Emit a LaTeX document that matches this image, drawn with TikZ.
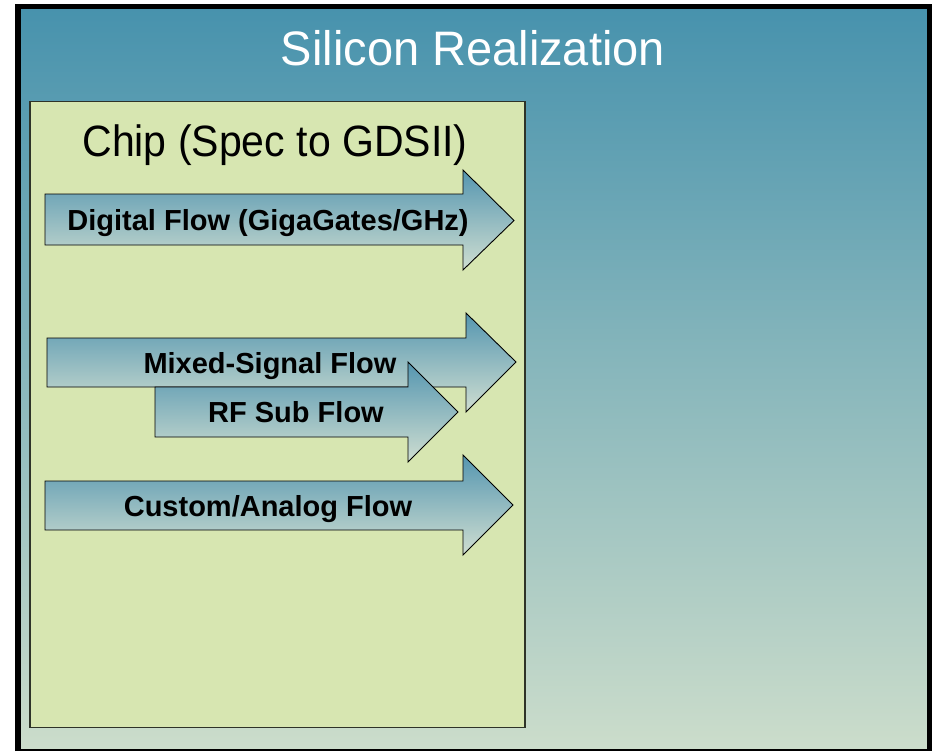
\documentclass[tikz,border=0pt]{standalone}
\usepackage{fontspec}
\setmainfont{Liberation Sans}
\definecolor{bgtop}{HTML}{4792AD}
\definecolor{bgbot}{HTML}{CCDDCB}
\definecolor{chipfill}{HTML}{D7E6B1}
\definecolor{chipline}{HTML}{2E3328}
\definecolor{arrtop}{HTML}{5596B0}
\definecolor{arrbot}{HTML}{CFDED1}
\tikzset{
  flowarrow/.style={draw=black, line width=0.9pt, line join=miter, top color=arrtop, bottom color=arrbot},
  flowtext/.style={font=\fontsize{29}{34}\selectfont\bfseries, text=black, inner sep=0pt, anchor=base},
}
\begin{document}
\begin{tikzpicture}[x=1pt,y=-1pt]
\useasboundingbox (0,0) rectangle (934,752);
% slide background with its heavy black frame (thin along the bottom)
\shade[top color=bgtop, bottom color=bgbot] (18,7) rectangle (930,750);
\draw[black, line width=5.5pt, line cap=butt] (17.75,751) -- (17.75,6.75) -- (929.5,6.75) -- (929.5,751);
\draw[black, line width=2pt] (15,749.5) -- (932.25,749.5);
\node[text=white, font=\fontsize{47}{56}\selectfont, inner sep=0pt, anchor=base] (title) at (473,66) {\scalebox{1}[1.03]{Silicon Realization}};
% chip box
\draw[chipline, fill=chipfill, line width=1.6pt] (30,101.5) rectangle (525,727.5);
\node[text=black, font=\fontsize{41}{49}\selectfont, inner sep=0pt, anchor=base] (chip) at (275,156) {\scalebox{1}[1.07]{Chip (Spec to GDSII)}};
% digital flow arrow
\path[flowarrow] (45,194) -- (463,194) -- (463,170) -- (514,220.5) -- (463,270) -- (463,245) -- (45,245) -- cycle;
\node[flowtext] (digital) at (268,230) {Digital Flow (GigaGates/GHz)};
% mixed-signal flow arrow
\path[flowarrow] (47,338) -- (466,338) -- (466,313) -- (516,362) -- (466,412) -- (466,387) -- (47,387) -- cycle;
\node[flowtext] (mixed) at (270,373) {Mixed-Signal Flow};
% RF sub flow arrow, on top of the mixed-signal one
\path[flowarrow] (155,387) -- (408,387) -- (408,362) -- (458,412) -- (408,462) -- (408,437) -- (155,437) -- cycle;
\node[flowtext] (rf) at (296,422) {RF Sub Flow};
% custom/analog flow arrow
\path[flowarrow] (45,481) -- (463,481) -- (463,455) -- (513,505) -- (463,555) -- (463,530) -- (45,530) -- cycle;
\node[flowtext] (custom) at (268,516) {Custom/Analog Flow};
\end{tikzpicture}
\end{document}
